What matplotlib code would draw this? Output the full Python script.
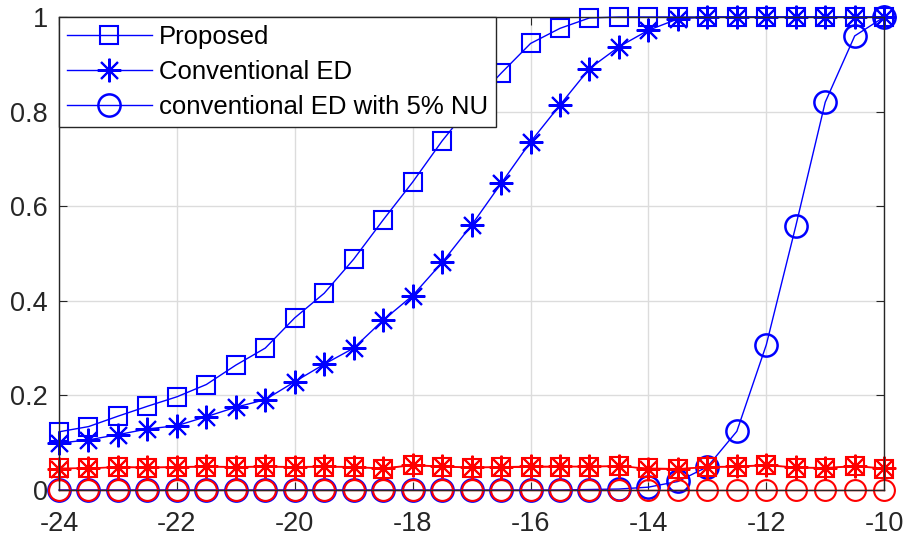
import matplotlib
matplotlib.use("Agg")
import matplotlib.pyplot as plt
import numpy as np

plt.rcParams['font.family'] = ['Liberation Sans', 'DejaVu Sans']
plt.rcParams['axes.unicode_minus'] = False

snr = np.arange(-24, -9.99, 0.5)

pd_proposed = [0.123, 0.134, 0.156, 0.177, 0.197, 0.223, 0.264, 0.300, 0.364, 0.416,
               0.488, 0.571, 0.651, 0.738, 0.815, 0.881, 0.944, 0.976, 0.998, 1.0,
               1.0, 1.0, 1.0, 1.0, 1.0, 1.0, 1.0, 1.0, 1.0]
pd_conv = [0.099, 0.106, 0.117, 0.129, 0.136, 0.155, 0.175, 0.191, 0.229, 0.266,
           0.300, 0.359, 0.411, 0.481, 0.560, 0.648, 0.736, 0.814, 0.891, 0.937,
           0.972, 0.996, 1.0, 1.0, 1.0, 1.0, 1.0, 1.0, 1.0]
pd_nu = [0.0, 0.0, 0.0, 0.0, 0.0, 0.0, 0.0, 0.0, 0.0, 0.0,
         0.0, 0.0, 0.0, 0.0, 0.0, 0.0, 0.0, 0.0, 0.001, 0.002,
         0.006, 0.018, 0.049, 0.124, 0.307, 0.558, 0.820, 0.960, 1.0]

pfa_proposed = [0.046, 0.046, 0.048, 0.047, 0.048, 0.049, 0.048, 0.049, 0.048, 0.049,
                0.048, 0.045, 0.052, 0.049, 0.047, 0.048, 0.048, 0.049, 0.049, 0.050,
                0.046, 0.045, 0.048, 0.049, 0.052, 0.047, 0.046, 0.050, 0.045]
pfa_conv = [0.045, 0.046, 0.049, 0.048, 0.049, 0.050, 0.049, 0.050, 0.049, 0.050,
            0.049, 0.046, 0.053, 0.050, 0.048, 0.049, 0.050, 0.050, 0.050, 0.051,
            0.044, 0.044, 0.049, 0.050, 0.053, 0.048, 0.047, 0.051, 0.046]
pfa_nu = [0.0] * 29

fig = plt.figure(figsize=(9.05, 5.41), dpi=100)
ax = fig.add_axes([0.0652, 0.0943, 0.9118, 0.8743])

blue = '#0000ff'
red = '#ff0000'
ast = (8, 2, 0)

common = dict(lw=1.0, clip_on=False)
ax.plot(snr, pd_proposed, color=blue, marker='s', ms=13, mfc='none', mew=1.5,
        label='Proposed', **common)
ax.plot(snr, pd_conv, color=blue, marker=ast, ms=17, mew=1.5,
        label='Conventional ED', **common)
ax.plot(snr, pd_nu, color=blue, marker='o', ms=16, mfc='none', mew=1.8,
        label='conventional ED with 5% NU', **common)
ax.plot(snr, pfa_proposed, color=red, marker='s', ms=13, mfc='none', mew=1.5, **common)
ax.plot(snr, pfa_conv, color=red, marker=ast, ms=17, mew=1.5, **common)
ax.plot(snr, pfa_nu, color=red, marker='o', ms=15, mfc='none', mew=1.5, **common)

ax.set_xlim(-24, -10)
ax.set_ylim(0, 1)
ax.set_xticks(np.arange(-24, -9, 2))
ax.set_yticks([0, 0.2, 0.4, 0.6, 0.8, 1.0])
ax.set_yticklabels(['0', '0.2', '0.4', '0.6', '0.8', '1'])
ax.grid(True, color='#dcdcdc', lw=1.0)
ax.set_axisbelow(True)
ax.tick_params(direction='in', top=True, right=True, labelsize=19.5, length=6,
               color='#262626', labelcolor='#262626')
ax.tick_params(axis='y', pad=8)
ax.tick_params(axis='x', pad=15)
for s in ax.spines.values():
    s.set_color('#262626')
    s.set_linewidth(1.0)
    s.set_zorder(5)

leg = ax.legend(loc='upper left', borderaxespad=0.0, fontsize=18.5, fancybox=False,
                edgecolor='#262626', framealpha=1.0, handlelength=3.3,
                labelspacing=0.43, borderpad=0.3, handletextpad=0.3)
leg.get_frame().set_linewidth(1.0)
leg.set_zorder(10)

fig.savefig('out.png', dpi=100)
